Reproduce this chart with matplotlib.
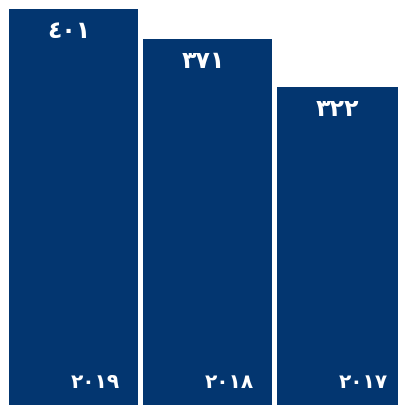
import matplotlib.pyplot as plt

years = ["٢٠١٩", "٢٠١٨", "٢٠١٧"]
values = [401, 371, 322]
labels = ["٤٠١", "٣٧١", "٣٢٢"]

navy = "#033670"
width = 0.963

fig = plt.figure(figsize=(3.98, 4.05), dpi=100)
ax = fig.add_axes([0, 0, 1, 1])
x = list(range(len(values)))
ax.bar(x, values, width=width, color=navy)

for xi, v, lab, yr in zip(x, values, labels, years):
    # value at top of bar
    ax.annotate(lab, (xi, v), xytext=(-3, -7.5), textcoords="offset points",
                ha="center", va="top", color="white", fontsize=17,
                fontweight="bold", family="DejaVu Sans", annotation_clip=False)
    # year at bottom right
    ax.annotate(yr, (xi + width / 2, 0), xytext=(-13, 9), textcoords="offset points",
                ha="right", va="bottom", color="white", fontsize=14.5,
                fontweight="bold", family="DejaVu Sans", annotation_clip=False)

ax.set_xlim(-0.5485, 2.4216)
ax.set_ylim(0, 410.1)
ax.axis("off")

fig.savefig("out.png", dpi=100, facecolor="white")
